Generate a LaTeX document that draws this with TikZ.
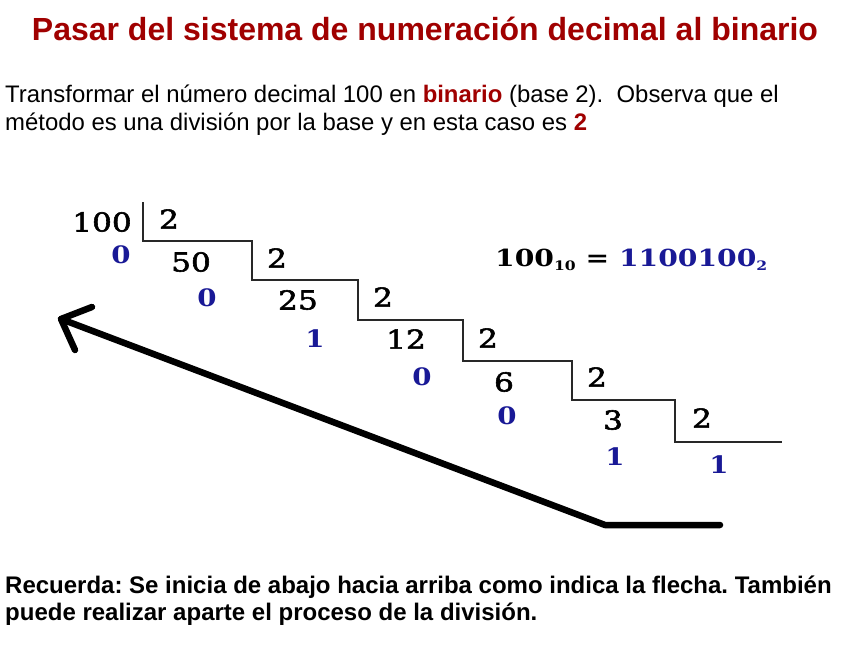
\documentclass[tikz,border=0pt]{standalone}
\usepackage{fontspec}
\setmainfont{Liberation Sans}
\newfontfamily\numfont[FakeStretch=1.2,FakeBold=2.2]{DejaVu Serif}
\newfontfamily\remfont[FakeStretch=1.15]{DejaVu Serif Bold}
\newfontfamily\eqfont[FakeStretch=1.2]{DejaVu Serif Bold}
\definecolor{tred}{RGB}{160,0,0}
\definecolor{nblue}{RGB}{25,25,150}
\definecolor{stairgray}{RGB}{40,40,40}
\frenchspacing
\begin{document}
\begin{tikzpicture}[x=1pt,y=-1pt,
  num/.style={inner sep=0pt, font=\numfont\fontsize{26}{26}\selectfont},
  rem/.style={inner sep=0pt, text=nblue, font=\remfont\fontsize{24}{24}\selectfont},
  txt/.style={inner sep=0pt, anchor=base west, font=\fontsize{23.9}{23.9}\selectfont},
  btxt/.style={inner sep=0pt, anchor=base west, font=\bfseries\fontsize{24}{24}\selectfont},
  stair/.style={draw=stairgray, line width=2.4pt},
  bigarrow/.style={draw=black, line width=6.5pt, line cap=round, line join=round}]
\useasboundingbox[fill=white] (0,0) rectangle (864,648);
% title and texts
\node[inner sep=0pt, anchor=base, text=tred, font=\bfseries\fontsize{32}{32}\selectfont] (title) at (425,40) {Pasar del sistema de numeración decimal al binario};
\node[txt] (l1) at (5,102) {Transformar el número decimal 100 en \textcolor{tred}{\textbf{binario}} (base 2).\ \ Observa que el};
\node[txt] (l2) at (5,130) {método es una división por la base y en esta caso es \textcolor{tred}{\textbf{2}}};
\node[btxt] (b1) at (5,593) {Recuerda: Se inicia de abajo hacia arriba como indica la flecha. También};
\node[btxt] (b2) at (5,620) {puede realizar aparte el proceso de la división.};
% staircase
\coordinate (c0) at (143,202);
\coordinate (c1) at (143,241);
\coordinate (c2) at (252,241);
\coordinate (c3) at (252,280);
\coordinate (c4) at (358,280);
\coordinate (c5) at (358,320);
\coordinate (c6) at (463,320);
\coordinate (c7) at (463,361);
\coordinate (c8) at (572,361);
\coordinate (c9) at (572,400);
\coordinate (c10) at (675,400);
\coordinate (c11) at (675,442);
\coordinate (c12) at (782,442);
\draw[stair] (c0) -- (c1) -- (c2) -- (c3) -- (c4) -- (c5) -- (c6) -- (c7) -- (c8) -- (c9) -- (c10) -- (c11) -- (c12);
% numbers
\node[num] (n100) at (102,222) {100};
\node[num] (q1) at (169,219) {2};
\node[rem] (r1) at (121,255) {0};
\node[num] (n50) at (191,262) {50};
\node[num] (q2) at (277,258) {2};
\node[rem] (r2) at (207,298) {0};
\node[num] (n25) at (298,300) {25};
\node[num] (q3) at (383,297) {2};
\node[rem] (r3) at (315,339) {1};
\node[num] (n12) at (406,339) {12};
\node[num] (q4) at (488,338) {2};
\node[rem] (r4) at (422,377) {0};
\node[num] (n6) at (504,382) {6};
\node[num] (q5) at (597,377) {2};
\node[rem] (r5) at (507,416) {0};
\node[num] (n3) at (613,420) {3};
\node[num] (q6) at (702,418) {2};
\node[rem] (r6) at (615,457) {1};
\node[rem] (r7) at (719,465) {1};
% equation
\node[inner sep=0pt, anchor=base west, font=\eqfont\fontsize{23.5}{23.5}\selectfont] (eq) at (495,266)
  {100\raisebox{-0.4ex}{\fontsize{13}{13}\selectfont 10} = \textcolor{nblue}{1100100\raisebox{-0.4ex}{\fontsize{13}{13}\selectfont 2}}};
% big arrow
\coordinate (aend) at (720,525);
\coordinate (acorner) at (605,525);
\coordinate (atip) at (61,319);
\coordinate (aw1) at (92,307);
\coordinate (aw2) at (75,350);
\draw[bigarrow] (aend) -- (acorner) -- (atip);
\draw[bigarrow] (aw1) -- (atip) -- (aw2);
\end{tikzpicture}
\end{document}
